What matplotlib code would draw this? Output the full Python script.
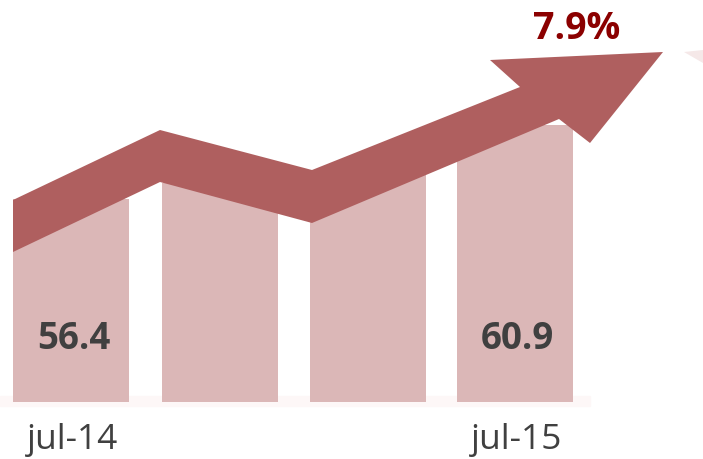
import matplotlib
matplotlib.use("Agg")
import matplotlib.pyplot as plt
from matplotlib.patches import Polygon

# ---- data ----
periods = ["jul-14", "", "", "jul-15"]
values = [56.4, None, None, 60.9]
growth_label = "7.9%"
bar_levels = [203, 219, 229, 277]   # decorative bar heights (drawing units)

# ---- figure ----
fig = plt.figure(figsize=(7.03, 4.59), dpi=100)
ax = fig.add_axes([0, 0, 1, 1])
ax.set_xlim(0, 703)
ax.set_ylim(-57, 402)   # y = 402 - pixel row
ax.axis("off")

bar_color = "#DBB7B7"
arrow_color = "#AF5F5F"
text_color = "#404040"

x_pos = [71, 219.5, 368, 514.5]
ax.bar(x_pos, bar_levels, width=116, color=bar_color, zorder=1)

# faint base strip
ax.axhspan(-4, 6, xmin=0, xmax=590 / 703, color="#FDF7F7", zorder=0)

# trend arrow (pixel-row outline converted to data y)
outline_px = [(13, 200), (160, 130), (312, 170), (520, 87), (490, 60),
              (663, 52), (590, 143), (559, 119), (312, 223), (160, 182),
              (13, 252)]
outline = [(x, 402 - y) for x, y in outline_px]
ax.add_patch(Polygon(outline, closed=True, facecolor=arrow_color,
                     edgecolor="none", zorder=3))
# faint clipped tip remnant
ax.add_patch(Polygon([(684, 402 - 52), (703, 402 - 50), (703, 402 - 63)],
                     closed=True, facecolor="#F5E8E8", edgecolor="none", zorder=2))

font = ["Open Sans", "DejaVu Sans"]
for x, v, lab in zip(x_pos, values, periods):
    if v is not None:
        ax.text(x + 3, 402 - 339, f"{v:.1f}", ha="center", va="center",
                fontsize=26.5, fontweight="bold", color=text_color,
                family=font, zorder=4)
    if lab:
        ax.text(x + 2, 402 - 440, lab, ha="center", va="center",
                fontsize=25.5, color=text_color, family=font, zorder=4)

ax.text(577, 402 - 29, growth_label, ha="center", va="center",
        fontsize=27, fontweight="bold", color="#8B0000", family=font, zorder=4)

fig.savefig("out.png", dpi=100)
